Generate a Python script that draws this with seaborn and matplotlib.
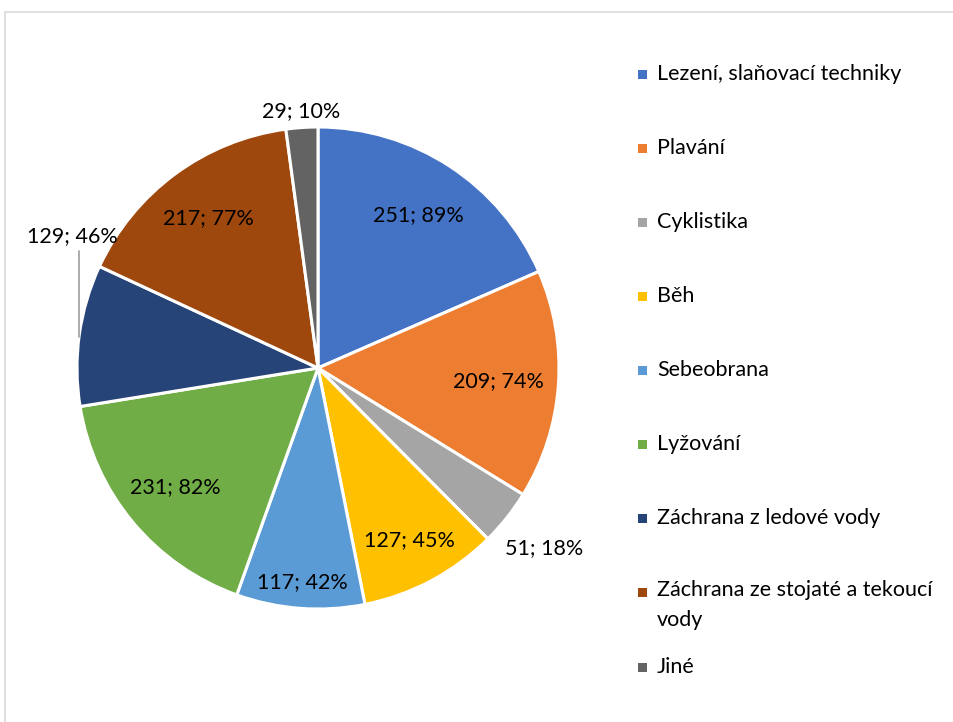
import numpy as np
import matplotlib
matplotlib.use("Agg")
import matplotlib.pyplot as plt
import seaborn as sns
from matplotlib.patches import Rectangle

sns.set_theme(style="white")
plt.rcParams['font.family'] = ['Lato', 'DejaVu Sans']

categories = ["Lezení, slaňovací techniky", "Plavání", "Cyklistika", "Běh",
              "Sebeobrana", "Lyžování", "Záchrana z ledové vody",
              "Záchrana ze stojaté a tekoucí\nvody", "Jiné"]
values = [251, 209, 51, 127, 117, 231, 129, 217, 29]
percents = ["89%", "74%", "18%", "45%", "42%", "82%", "46%", "77%", "10%"]
colors = ["#4472C4", "#ED7D31", "#A5A5A5", "#FFC000", "#5B9BD5",
          "#70AD47", "#264478", "#9E480E", "#636363"]

# label radial distance (fraction of radius)
label_r = [0.76, 0.75, 1.20, 0.81, 0.89, 0.77, None, 0.77, 1.07]

W, H = 954, 722
fig = plt.figure(figsize=(W / 100, H / 100), dpi=100)

# frame
fig.patches.append(Rectangle((5 / W, -0.1), 1.2, (H - 12) / H + 0.1,
                             transform=fig.transFigure, fill=False,
                             edgecolor="#D9D9D9", linewidth=1.2))

cx, cy, R = 318, 368, 241
ax = fig.add_axes([(cx - R) / W, (H - cy - R) / H, 2 * R / W, 2 * R / H])
wedges, _ = ax.pie(values, colors=colors, startangle=90, counterclock=False,
                   radius=1.0, wedgeprops=dict(edgecolor="white", linewidth=2.2))
ax.set_xlim(-1, 1)
ax.set_ylim(-1, 1)
ax.set_aspect("equal")
ax.axis("off")

fs = 15.5
for i, w in enumerate(wedges):
    ang = np.deg2rad((w.theta1 + w.theta2) / 2)
    txt = f"{values[i]}; {percents[i]}"
    if label_r[i] is None:
        ex, ey = np.cos(ang), np.sin(ang)
        ax.plot([ex, ex], [ey - 0.01, ey + 0.35], color="#A6A6A6", lw=1.3,
                clip_on=False)
        ax.text(ex - 0.03, ey + 0.41, txt, ha="center", va="center",
                fontsize=fs, color="#000000", clip_on=False)
    else:
        r = label_r[i]
        ax.text(r * np.cos(ang), r * np.sin(ang), txt, ha="center",
                va="center", fontsize=fs, color="#000000", clip_on=False)

# manual legend
leg_y = [74, 148, 222, 296, 370, 444, 518, 592, 667]
for name, col, y in zip(categories, colors, leg_y):
    fig.patches.append(Rectangle((638 / W, (H - y - 5) / H), 9 / W, 9 / H,
                                 transform=fig.transFigure, facecolor=col,
                                 edgecolor="none"))
    if "\n" in name:
        fig.text(657 / W, (H - y + 12) / H, name, ha="left", va="top",
                 fontsize=fs, color="#000000", linespacing=1.6)
    else:
        fig.text(657 / W, (H - y) / H, name, ha="left", va="center",
                 fontsize=fs, color="#000000")

fig.savefig("out.png", dpi=100)
